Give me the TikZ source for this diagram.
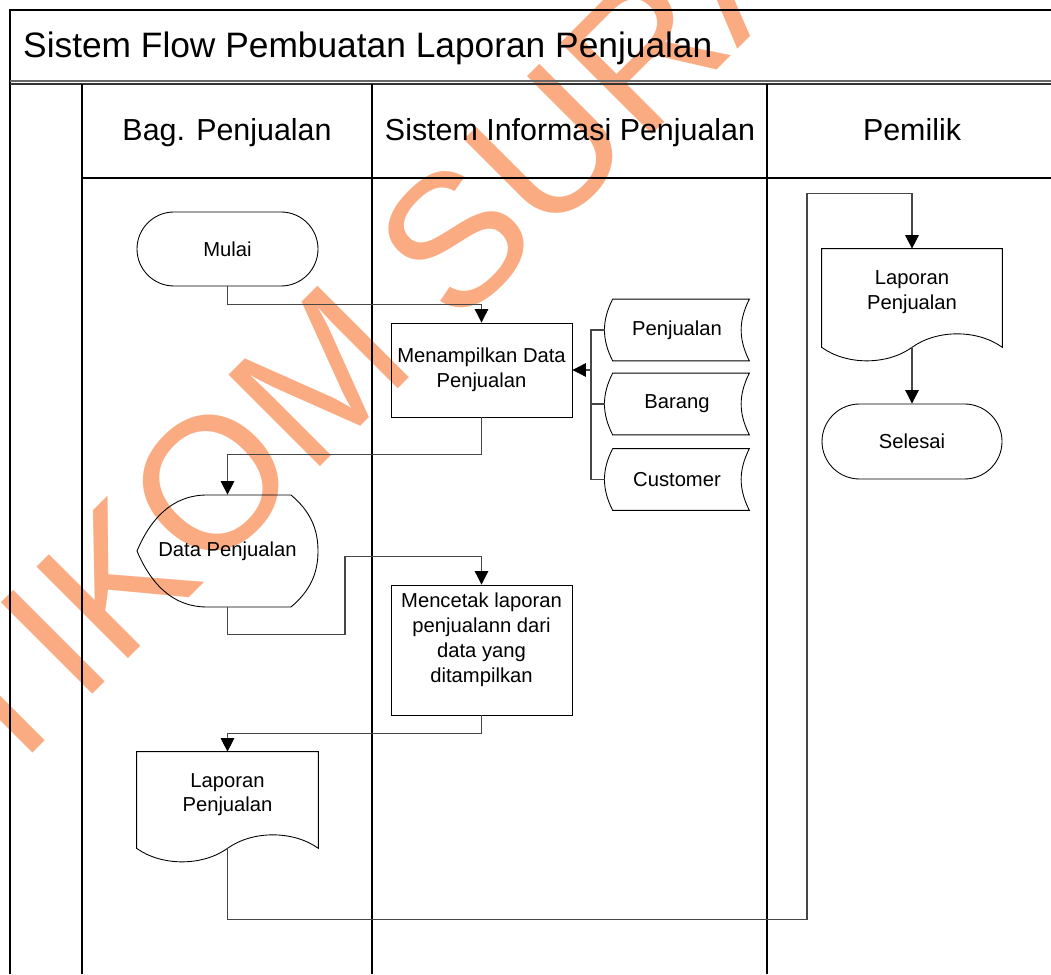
\documentclass[tikz,border=0pt]{standalone}
\usepackage{fontspec}
\setmainfont{Liberation Sans}
\usetikzlibrary{arrows.meta}

\definecolor{wmark}{RGB}{250,171,130}
\definecolor{flowline}{RGB}{70,70,70}

\begin{document}
\begin{tikzpicture}[
  every node/.style={font=\fontsize{11.5}{14.2}\selectfont},
  box/.style={draw, line width=0.5pt, minimum width=3.62cm, align=center},
  term/.style={box, rounded corners=0.74cm, minimum height=1.48cm},
  shapetext/.style={minimum width=3.62cm, align=center},
  flow/.style={draw=flowline, line width=0.6pt, -{Triangle[width=2.7mm,length=2.7mm,color=black]}},
  link/.style={draw=flowline, line width=0.6pt},
  lane/.style={line width=0.6pt}
]

\useasboundingbox (0,0) rectangle (21.02,19.48);

% watermark
\node[text=wmark, rotate=45, font=\fontsize{107}{107}\selectfont] (wm) at (9.8,15.38) {STIKOM SURABAYA};

% frame and lanes
\draw[lane] (0.2,0) -- (0.2,19.28) -- (21.02,19.28);
\draw[lane, gray!80!black] (0.2,17.86) -- (21.02,17.86);
\draw[lane, black!80] (0.2,17.8) -- (21.02,17.8);
\draw[lane] (1.64,0) -- (1.64,17.8);
\draw[lane] (7.44,0) -- (7.44,17.8);
\draw[lane] (15.34,0) -- (15.34,17.8);
\draw[lane] (1.64,15.92) -- (21.02,15.92);

\node[anchor=base west, font=\fontsize{20.1}{24}\selectfont] (title) at (0.34,18.32) {Sistem Flow Pembuatan Laporan Penjualan};

\node[anchor=base, font=\fontsize{17.3}{20}\selectfont] (bag) at (4.54,16.66) {Bag. Penjualan};
\node[anchor=base, font=\fontsize{17.3}{20}\selectfont] (sis) at (11.4,16.66) {Sistem Informasi Penjualan};
\node[anchor=base, font=\fontsize{17.3}{20}\selectfont] (pem) at (18.24,16.66) {Pemilik};

% nodes
\node[term] (mulai) at (4.55,14.5) {Mulai};
\node[box, minimum height=1.88cm] (tampil) at (9.63,12.08) {Menampilkan Data\\Penjualan};

\node[shapetext, minimum width=2.88cm, minimum height=1.22cm] (pj) at (13.54,12.88) {Penjualan};
\node[shapetext, minimum width=2.88cm, minimum height=1.22cm] (br) at (13.54,11.4) {Barang};
\node[shapetext, minimum width=2.88cm, minimum height=1.22cm] (cs) at (13.54,9.89) {Customer};

\node[shapetext, minimum height=2.24cm] (dp) at (4.55,8.46) {Data Penjualan};
\node[box, minimum height=2.6cm] (cetak) at (9.63,6.48) {Mencetak laporan\\penjualann dari\\data yang\\ditampilkan\\ \mbox{}};
\node[shapetext, minimum height=1.92cm] (lap1) at (4.55,3.48) {Laporan\\Penjualan\\[-2mm] \mbox{}};

\node[shapetext, minimum width=3.6cm, minimum height=1.96cm] (lap2) at (18.24,13.52) {Laporan\\Penjualan\\[-2mm] \mbox{}};
\node[term, minimum width=3.6cm, minimum height=1.5cm, rounded corners=0.75cm] (selesai) at (18.24,10.65) {Selesai};

% shape outlines
\foreach \s in {pj,br,cs}
  \draw[line width=0.5pt] ([xshift=1.6mm]\s.north west) -- (\s.north east) to[bend right=27] (\s.south east) -- ([xshift=1.6mm]\s.south west) to[bend left=27] ([xshift=1.6mm]\s.north west);

\draw[line width=0.5pt, shift={(dp.center)}] (-0.41,1.12) -- (1.27,1.12) .. controls (1.65,0.8) and (1.81,0.45) .. (1.81,0) .. controls (1.81,-0.45) and (1.65,-0.8) .. (1.27,-1.12) -- (-0.41,-1.12) .. controls (-1.2,-1.12) and (-1.6,-0.5) .. (-1.81,0) .. controls (-1.6,0.5) and (-1.2,1.12) .. (-0.41,1.12) -- cycle;

\foreach \d in {lap1,lap2}
  \draw[line width=0.5pt] (\d.north west) -- (\d.north east) -- (\d.south east) .. controls +(-0.5,0.36) and +(0.5,0.36) .. (\d.south) .. controls +(-0.5,-0.36) and +(0.5,-0.36) .. (\d.south west) -- cycle;

% connectors
\coordinate (jn) at (11.82,12.08);
\draw[link] (pj.west) -| (jn);
\draw[link] (cs.west) -| (jn);
\draw[link] (br.west) -- (br.west -| jn);
\draw[flow] (jn) -- (tampil.east);

\draw[flow] (mulai.south) -- ++(0,-0.36) -| (tampil.north);
\draw[flow] (tampil.south) -- ++(0,-0.74) -| (dp.north);
\draw[flow] (dp.south) -- ++(0,-0.54) -- ++(2.35,0) -- ++(0,1.56) -| (cetak.north);
\draw[flow] (cetak.south) -- ++(0,-0.36) -| (lap1.north);
\draw[flow] (lap1.south) -- ++(0,-1.42) -- ++(11.59,0) -- ++(0,14.52) -| (lap2.north);
\draw[flow] (lap2.south) -- (selesai.north);

\end{tikzpicture}
\end{document}
